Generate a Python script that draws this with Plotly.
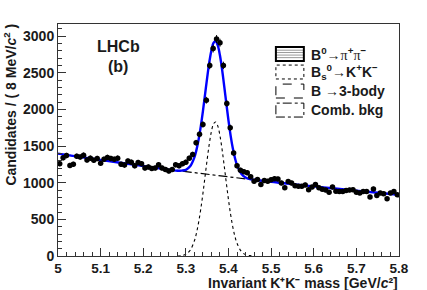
import numpy as np
import plotly.graph_objects as go

# ---------------- data ----------------
bin_centers = [round(5.004 + 0.008 * i, 3) for i in range(100)]
counts = [1260, 1340, 1370, 1235, 1250, 1360, 1350, 1375, 1310, 1335,
          1305, 1330, 1265, 1320, 1345, 1330, 1320, 1335, 1250, 1240,
          1295, 1280, 1230, 1275, 1260, 1200, 1215, 1195, 1200, 1245,
          1200, 1180, 1160, 1180, 1245, 1230, 1260, 1280, 1335, 1385,
          1545, 1660, 1795, 2125, 2600, 2830, 2960, 2910, 2600, 2080,
          1750, 1405, 1230, 1170, 1150, 1135, 1080, 1020, 1045, 975,
          1030, 1020, 1040, 1055, 1050, 995, 930, 1015, 995, 960,
          950, 950, 970, 905, 940, 975, 930, 910, 900, 870,
          940, 885, 880, 880, 895, 900, 905, 870, 860, 880,
          880, 805, 915, 825, 860, 850, 780, 860, 880, 835]

total_x = [5.00, 5.05, 5.10, 5.15, 5.20, 5.25, 5.28, 5.29, 5.30, 5.31, 5.32, 5.325,
           5.33, 5.335, 5.34, 5.345, 5.35, 5.355, 5.36, 5.365, 5.37, 5.375, 5.38,
           5.385, 5.39, 5.395, 5.40, 5.405, 5.41, 5.415, 5.42, 5.43, 5.44, 5.45,
           5.50, 5.55, 5.60, 5.65, 5.70, 5.75, 5.80]
total_y = [1397, 1353, 1310, 1269, 1228, 1185, 1163, 1165, 1176, 1223, 1345, 1451,
           1592, 1768, 1977, 2205, 2434, 2645, 2808, 2909, 2929, 2869, 2734,
           2542, 2314, 2077, 1846, 1643, 1472, 1340, 1240, 1123, 1072, 1051,
           1013, 981, 950, 920, 891, 863, 835]

sig_x = [5.28, 5.29, 5.30, 5.31, 5.32, 5.325, 5.33, 5.335, 5.34, 5.345, 5.35, 5.355,
         5.36, 5.365, 5.37, 5.375, 5.38, 5.385, 5.39, 5.395, 5.40, 5.405, 5.41,
         5.415, 5.42, 5.43, 5.44, 5.45, 5.46]
sig_y = [1, 6, 24, 78, 208, 317, 462, 642, 854, 1086, 1319, 1533,
         1700, 1804, 1828, 1771, 1640, 1451, 1227, 993, 766, 566, 399,
         270, 174, 63, 19, 5, 1]

bkg_x = [5.00, 5.10, 5.20, 5.30, 5.40, 5.50, 5.60, 5.70, 5.80]
bkg_y = [1397, 1310, 1228, 1152, 1080, 1013, 950, 891, 835]

x_ticks = [5.0, 5.1, 5.2, 5.3, 5.4, 5.5, 5.6, 5.7, 5.8]
x_tick_labels = ["5", "5.1", "5.2", "5.3", "5.4", "5.5", "5.6", "5.7", "5.8"]
y_ticks = [0, 500, 1000, 1500, 2000, 2500, 3000]
y_tick_labels = ["0", "500", "1000", "1500", "2000", "2500", "3000"]

legend_labels = [
    "B<sup>0</sup>→<span style=\"font-family:'Liberation Serif';font-weight:normal\">π</span><sup>+</sup><span style=\"font-family:'Liberation Serif';font-weight:normal\">π</span><sup>−</sup>",
    "B<sub>s</sub><sup>0</sup>→K<sup>+</sup>K<sup>−</sup>",
    "B →3-body",
    "Comb. bkg",
]
legend_dashes = ["solid", "dot", "dash", "dashdot"]

FONT = "Liberation Sans, Arial, sans-serif"
TXT = "#1a1a1a"

fig = go.Figure()

fig.add_trace(go.Scatter(x=bkg_x, y=bkg_y, mode="lines", line_shape="spline",
                         line=dict(color="black", width=1.2, dash="dashdot"),
                         showlegend=False, hoverinfo="skip"))
fig.add_trace(go.Scatter(x=sig_x, y=sig_y, mode="lines", line_shape="spline",
                         line=dict(color="black", width=1.1, dash="dot"),
                         showlegend=False, hoverinfo="skip"))
fig.add_trace(go.Scatter(x=total_x, y=total_y, mode="lines", line_shape="spline",
                         line=dict(color="#0000ff", width=2.4),
                         showlegend=False, hoverinfo="skip"))
fig.add_trace(go.Scatter(x=bin_centers, y=counts, mode="markers",
                         marker=dict(color="black", size=5.5),
                         error_y=dict(type="data", array=list(np.sqrt(counts)),
                                      color="black", thickness=1, width=0),
                         showlegend=False, hoverinfo="skip"))

# plot area in pixels: x 58..399, y 24..256
fig.update_layout(
    width=427, height=290,
    margin=dict(l=58, r=28, t=24, b=34),
    paper_bgcolor="white", plot_bgcolor="white",
    font=dict(family=FONT, color=TXT, size=14, weight="bold"),
    showlegend=False,
)
fig.update_xaxes(range=[5.0, 5.8], tickvals=x_ticks, ticktext=x_tick_labels,
                 ticks="inside", ticklen=8, tickwidth=1, tickcolor="#333",
                 minor=dict(dtick=0.02, ticks="inside", ticklen=4, tickcolor="#333", tick0=5.0),
                 showgrid=False, zeroline=False, showline=True, linecolor="#333",
                 linewidth=1, mirror=True,
                 tickfont=dict(family=FONT, size=13.5, color=TXT, weight="bold"))
fig.update_yaxes(range=[0, 3165], tickvals=y_ticks, ticktext=y_tick_labels,
                 ticks="inside", ticklen=8, tickwidth=1, tickcolor="#333",
                 minor=dict(dtick=100, ticks="inside", ticklen=4, tickcolor="#333", tick0=0),
                 showgrid=False, zeroline=False, showline=True, linecolor="#333",
                 linewidth=1, mirror=True,
                 tickfont=dict(family=FONT, size=14, color=TXT, weight="bold"))

ann = []
ann.append(dict(text="Invariant K⁺K⁻ mass [GeV/<i>c</i>²]",
                xref="paper", yref="paper", x=1.0, y=-0.155, xanchor="right", yanchor="bottom",
                borderpad=0, showarrow=False,
                font=dict(family=FONT, size=14, color=TXT, weight="bold")))
ann.append(dict(text="Candidates / ( 8 MeV/<i>c</i><sup>2</sup> )",
                xref="paper", yref="paper", x=-0.141, y=1.01, xanchor="center", yanchor="top",
                textangle=-90, showarrow=False,
                font=dict(family=FONT, size=14, color=TXT, weight="bold")))
ann.append(dict(text="LHCb", xref="paper", yref="paper", x=0.176, y=0.905,
                xanchor="center", yanchor="middle", showarrow=False,
                font=dict(family=FONT, size=16, color=TXT, weight="bold")))
ann.append(dict(text="(b)", xref="paper", yref="paper", x=0.176, y=0.817,
                xanchor="center", yanchor="middle", showarrow=False,
                font=dict(family=FONT, size=16, color=TXT, weight="bold")))

shapes = []
row_y = [0.871, 0.793, 0.711, 0.629]
bx0, bx1, bh = 0.639, 0.721, 0.030
for k, (lab, dsh) in enumerate(zip(legend_labels, legend_dashes)):
    yc = row_y[k]
    if k == 0:
        for off in (-0.016, -0.005, 0.006, 0.016):
            shapes.append(dict(type="line", xref="paper", yref="paper",
                               x0=bx0, x1=bx1, y0=yc + off, y1=yc + off,
                               line=dict(color="#999", width=1)))
        shapes.append(dict(type="rect", xref="paper", yref="paper",
                           x0=bx0, x1=bx1, y0=yc - bh, y1=yc + bh,
                           line=dict(color="black", width=2)))
    else:
        shapes.append(dict(type="rect", xref="paper", yref="paper",
                           x0=bx0, x1=bx1, y0=yc - bh, y1=yc + bh,
                           line=dict(color="black", width=1, dash=dsh)))
    ann.append(dict(text=lab, xref="paper", yref="paper", x=0.737, y=yc,
                    xanchor="left", yanchor="middle", showarrow=False,
                    font=dict(family=FONT, size=14, color=TXT, weight="bold")))

fig.update_layout(annotations=ann, shapes=shapes)
fig.write_html("out.html", config={"displayModeBar": False},
               post_script="document.body.style.margin='0px';document.body.style.overflow='hidden';")
